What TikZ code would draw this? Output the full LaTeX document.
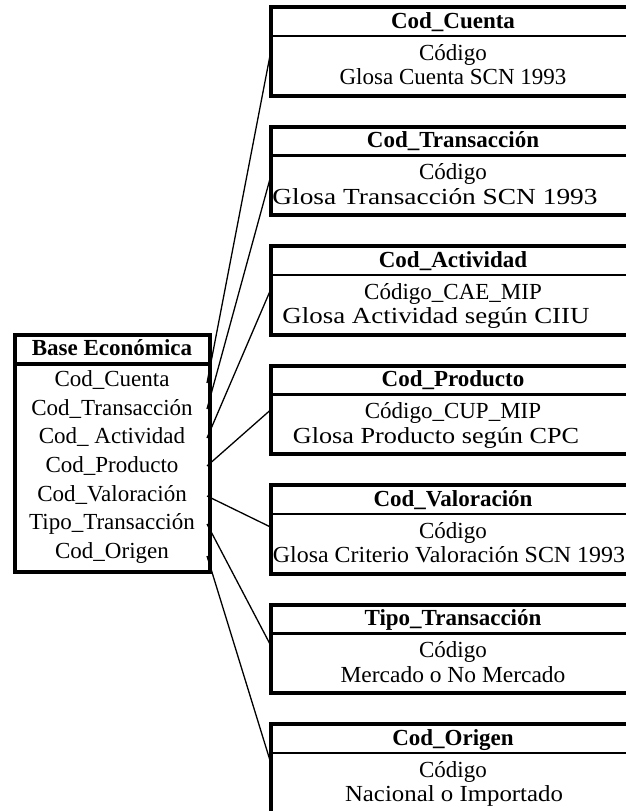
\documentclass[tikz,border=0pt]{standalone}
\usepackage{graphicx}
\usepackage{fontspec}
\setmainfont{Liberation Serif}
% #1 name, #2 top, #3 header, #4 line1, #5 line2, #6 hit y, #7 line2 centre x, #8 line2 x-scale
\newcommand\ERbox[8]{%
  \draw[sepline] (270.5,#2+29) -- (640,#2+29);
  \draw[frame] (270.5,#2) rectangle (640,#2+88.5);
  \node[hdr] (#1h) at (453,#2+21) {#3};
  \node[txt] (#1a) at (453,#2+53) {#4};
  \node[txt] (#1b) at (#7,#2+77.5) {\scalebox{#8}[1]{#5}};
  \coordinate (#1in) at (270.5,#6);
}
\begin{document}
\begin{tikzpicture}[x=1pt,y=-1pt,
  frame/.style={line width=4pt},
  sepline/.style={line width=2.2pt},
  conn/.style={line width=1.3pt},
  hdr/.style={anchor=base,inner sep=0pt,font=\fontsize{23}{24}\selectfont\bfseries},
  txt/.style={anchor=base,inner sep=0pt,font=\fontsize{23}{24}\selectfont}]
\useasboundingbox (0,0) rectangle (626,811);
\clip (0,0) rectangle (626,811);
\fill[white] (0,0) rectangle (626,811);

% right boxes
\ERbox{cu}{7}{Cod\_Cuenta}{Código}{Glosa Cuenta SCN 1993}{53}{453}{1}
\ERbox{tr}{126.5}{Cod\_Transacción}{Código}{Glosa Transacción SCN 1993}{177}{435}{1.19}
\ERbox{ac}{246}{Cod\_Actividad}{Código\_CAE\_MIP}{Glosa Actividad según CIIU}{290}{436}{1.17}
\ERbox{pr}{365.5}{Cod\_Producto}{Código\_CUP\_MIP}{Glosa Producto según CPC}{410}{436}{1.14}
\ERbox{va}{485}{Cod\_Valoración}{Código}{Glosa Criterio Valoración SCN 1993}{527}{449}{1.04}
\ERbox{ti}{604.5}{Tipo\_Transacción}{Código}{Mercado o No Mercado}{645}{453}{1.02}
\ERbox{or}{724}{Cod\_Origen}{Código}{Nacional o Importado}{762}{454}{1.08}

% left box
\node[hdr] (bh) at (112,355.7) {Base Económica};
\node[txt] (r1) at (112,386.7) {Cod\_Cuenta};
\node[txt] (r2) at (112,415.3) {Cod\_Transacción};
\node[txt] (r3) at (112,443.9) {Cod\_ Actividad};
\node[txt] (r4) at (112,472.5) {Cod\_Producto};
\node[txt] (r5) at (112,501.1) {Cod\_Valoración};
\node[txt] (r6) at (112,529.7) {Tipo\_Transacción};
\node[txt] (r7) at (112,558.3) {Cod\_Origen};
\coordinate (l1) at (207,383);
\coordinate (l2) at (207,409);
\coordinate (l3) at (207,438);
\coordinate (l4) at (207,466);
\coordinate (l5) at (207,496);
\coordinate (l6) at (207,524);
\coordinate (l7) at (207,556);

% connectors
\draw[conn] (l1) -- (cuin);
\draw[conn] (l2) -- (trin);
\draw[conn] (l3) -- (acin);
\draw[conn] (l4) -- (prin);
\draw[conn] (l5) -- (vain);
\draw[conn] (l6) -- (tiin);
\draw[conn] (l7) -- (orin);

\draw[line width=3.5pt] (14.5,364) -- (209.5,364);
\draw[frame] (14.5,334.5) rectangle (209.5,571.5);
\end{tikzpicture}
\end{document}
